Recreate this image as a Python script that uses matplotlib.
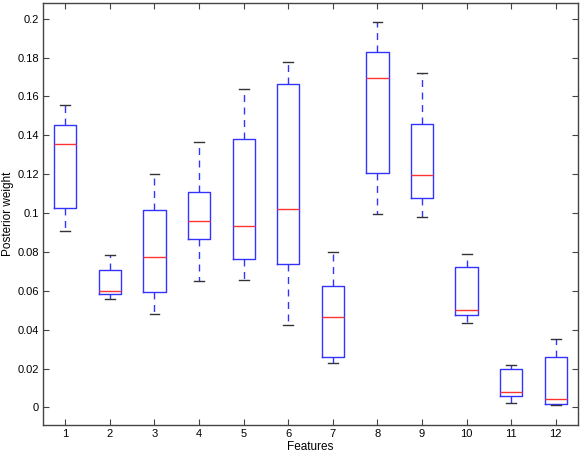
import matplotlib
matplotlib.use('Agg')
import matplotlib.pyplot as plt

plt.rcParams['font.family'] = ['Liberation Sans', 'DejaVu Sans']

features = list(range(1, 13))
whislo = [0.0906, 0.0556, 0.0479, 0.0650, 0.0657, 0.0424, 0.0230, 0.0995, 0.0980, 0.0437, 0.0024, 0.0014]
q1     = [0.1028, 0.0585, 0.0594, 0.0865, 0.0762, 0.0739, 0.0259, 0.1204, 0.1077, 0.0477, 0.0060, 0.0017]
med    = [0.1355, 0.0597, 0.0772, 0.0957, 0.0933, 0.1021, 0.0465, 0.1693, 0.1196, 0.0503, 0.0079, 0.0043]
q3     = [0.1453, 0.0707, 0.1017, 0.1111, 0.1381, 0.1666, 0.0626, 0.1829, 0.1461, 0.0724, 0.0199, 0.0259]
whishi = [0.1556, 0.0782, 0.1202, 0.1367, 0.1636, 0.1777, 0.0798, 0.1985, 0.1722, 0.0791, 0.0216, 0.0353]
yticks = [0, 0.02, 0.04, 0.06, 0.08, 0.1, 0.12, 0.14, 0.16, 0.18, 0.2]
ytick_labels = ['0', '0.02', '0.04', '0.06', '0.08', '0.1', '0.12', '0.14', '0.16', '0.18', '0.2']

stats = []
for i in range(len(features)):
    stats.append({'whislo': whislo[i], 'q1': q1[i], 'med': med[i],
                  'q3': q3[i], 'whishi': whishi[i], 'fliers': []})

fig = plt.figure(figsize=(5.81, 4.55), dpi=100)
ax = fig.add_axes([0.074, 0.066, 0.921, 0.927])

ax.bxp(stats, positions=features, widths=0.5, capwidths=0.22, showfliers=False,
       boxprops=dict(color='#3333ff', linewidth=1.0),
       whiskerprops=dict(color='#3333ff', linewidth=1.0, linestyle=(0, (5, 4))),
       capprops=dict(color='#333333', linewidth=1.0),
       medianprops=dict(color='#ff3333', linewidth=1.0))

ax.set_xlim(0.5, 12.5)
ax.set_ylim(-0.009, 0.208)
ax.set_xticks(features)
ax.set_xticklabels([str(f) for f in features])
ax.set_yticks(yticks)
ax.set_yticklabels(ytick_labels)
ax.tick_params(direction='in', top=True, right=True, labelsize=8, length=4,
               color='#444444', pad=3)
for s in ax.spines.values():
    s.set_color('#444444')
    s.set_linewidth(1.0)

ax.set_xlabel('Features', fontsize=8.5, labelpad=1)
ax.set_ylabel('Posterior weight', fontsize=8.5, labelpad=2)

fig.savefig('out.png', dpi=100)
